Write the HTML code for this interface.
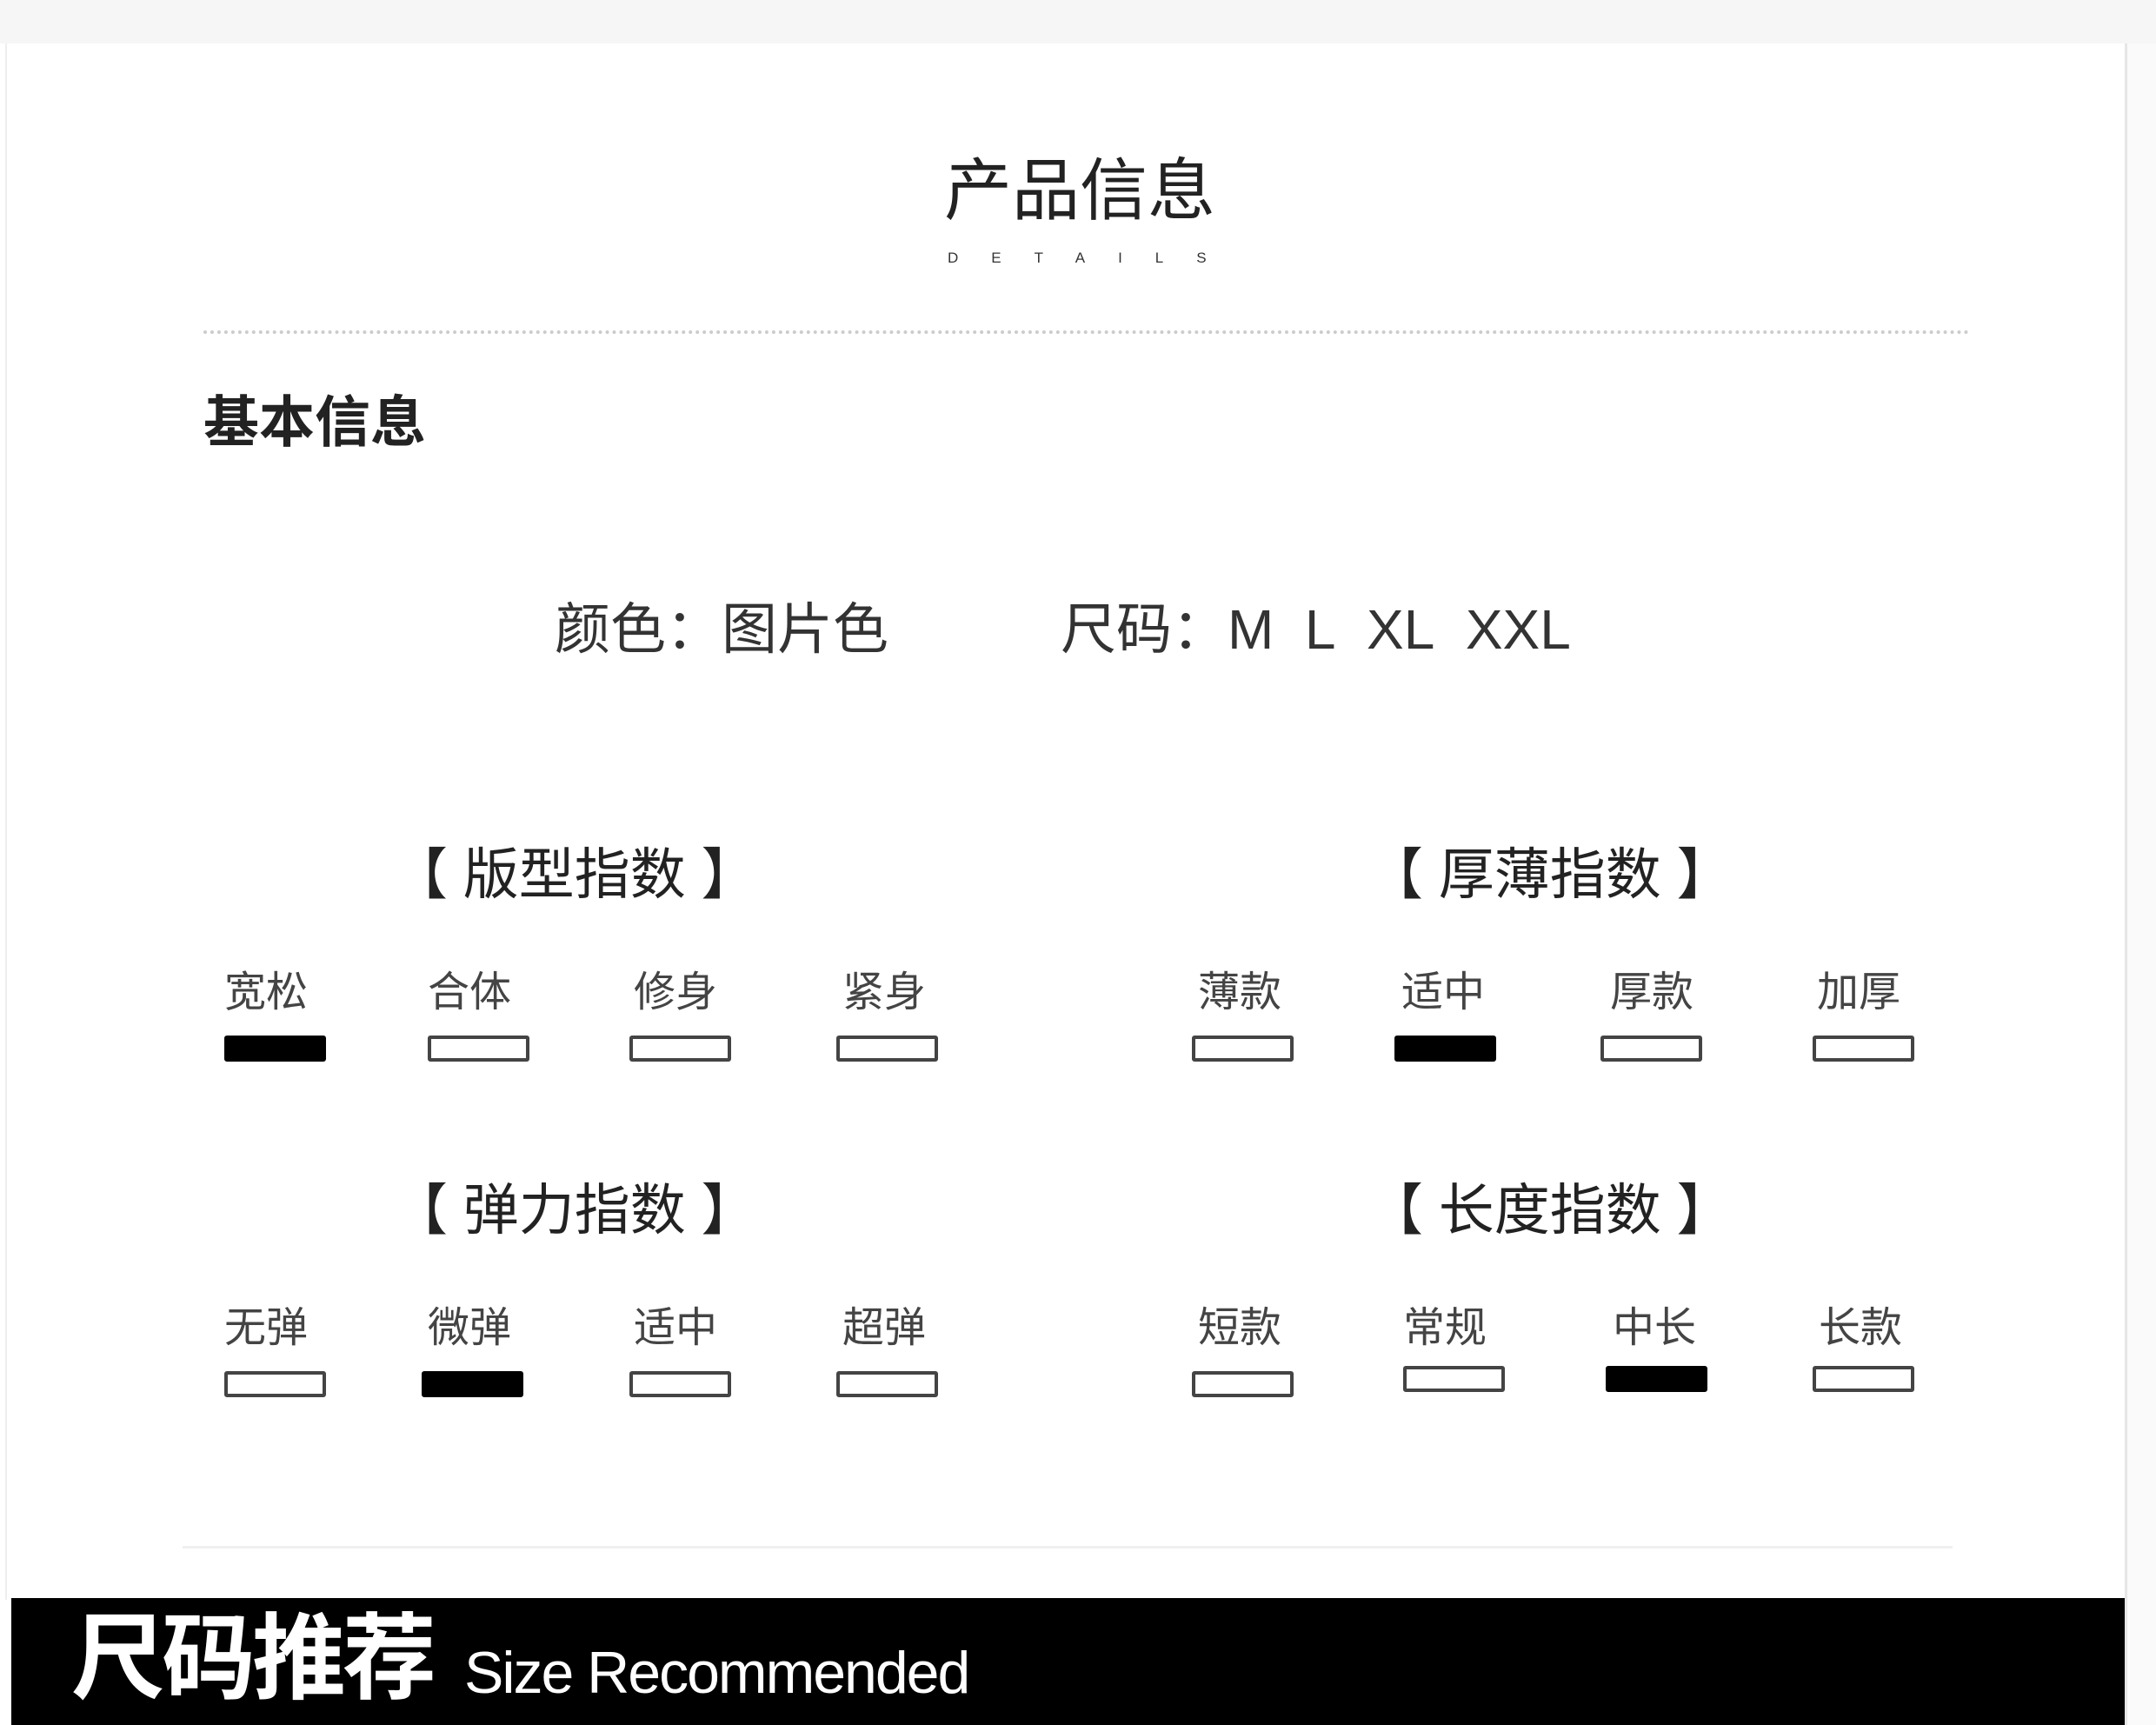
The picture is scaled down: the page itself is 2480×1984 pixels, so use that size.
<!DOCTYPE html>
<html><head><meta charset="utf-8"><style>
*{margin:0;padding:0;box-sizing:border-box}
body{width:2480px;height:1984px;background:#fff;position:relative;overflow:hidden;font-family:"Liberation Sans","Noto Sans CJK SC",sans-serif;color:#222}
.a{position:absolute;white-space:nowrap;line-height:1}
.box{position:absolute;width:117px;height:30px;border:4px solid #444;border-radius:3px;background:#fff}
.box.f{background:#000;border-color:#000}
.lb{position:absolute;font-size:48px;color:#444;line-height:1}
.hd{position:absolute;font-size:64px;color:#222;line-height:1}
</style></head><body>
<div class="a" style="left:0;top:0;width:2480px;height:50px;background:#f6f6f6"></div>
<div class="a" style="left:6px;top:50px;width:2px;height:1790px;background:#eee"></div>
<div class="a" style="left:2444px;top:50px;width:36px;height:1934px;background:#fafafa;border-left:3px solid #e6e6e6"></div>
<div class="a" style="left:1086px;top:180px;font-size:78px;color:#222">产品信息</div>
<div class="a" style="left:1090px;top:288px;font-size:17px;letter-spacing:38px;color:#333">DETAILS</div>
<div class="a" style="left:234px;top:380px;width:2032px;border-top:4px dotted #ccc"></div>
<div class="a" style="left:234px;top:454px;font-size:64px;font-weight:bold;color:#222">基本信息</div>
<div class="a" style="left:638px;top:692px;font-size:64px;color:#333">颜色：图片色</div>
<div class="a" style="left:1220px;top:692px;font-size:64px;color:#333">尺码：M&nbsp;&nbsp;L&nbsp;&nbsp;XL&nbsp;&nbsp;XXL</div>

<div class="hd" style="left:451px;top:974px">【 版型指数 】</div>
<div class="hd" style="left:1573px;top:974px">【 厚薄指数 】</div>
<div class="hd" style="left:451px;top:1360px">【 弹力指数 】</div>
<div class="hd" style="left:1573px;top:1360px">【 长度指数 】</div>

<div class="lb" style="left:258px;top:1118px">宽松</div>
<div class="lb" style="left:492px;top:1118px">合体</div>
<div class="lb" style="left:729px;top:1118px">修身</div>
<div class="lb" style="left:969px;top:1118px">紧身</div>
<div class="lb" style="left:1378px;top:1118px">薄款</div>
<div class="lb" style="left:1612px;top:1118px">适中</div>
<div class="lb" style="left:1852px;top:1118px">厚款</div>
<div class="lb" style="left:2090px;top:1118px">加厚</div>
<div class="box f" style="left:258px;top:1191px"></div>
<div class="box" style="left:492px;top:1191px"></div>
<div class="box" style="left:724px;top:1191px"></div>
<div class="box" style="left:962px;top:1191px"></div>
<div class="box" style="left:1371px;top:1191px"></div>
<div class="box f" style="left:1604px;top:1191px"></div>
<div class="box" style="left:1841px;top:1191px"></div>
<div class="box" style="left:2085px;top:1191px"></div>

<div class="lb" style="left:258px;top:1504px">无弹</div>
<div class="lb" style="left:492px;top:1504px">微弹</div>
<div class="lb" style="left:729px;top:1504px">适中</div>
<div class="lb" style="left:969px;top:1504px">超弹</div>
<div class="lb" style="left:1378px;top:1504px">短款</div>
<div class="lb" style="left:1614px;top:1504px">常规</div>
<div class="lb" style="left:1855px;top:1504px">中长</div>
<div class="lb" style="left:2092px;top:1504px">长款</div>
<div class="box" style="left:258px;top:1577px"></div>
<div class="box f" style="left:485px;top:1577px"></div>
<div class="box" style="left:724px;top:1577px"></div>
<div class="box" style="left:962px;top:1577px"></div>
<div class="box" style="left:1371px;top:1577px"></div>
<div class="box" style="left:1614px;top:1571px"></div>
<div class="box f" style="left:1847px;top:1571px"></div>
<div class="box" style="left:2085px;top:1571px"></div>

<div class="a" style="left:210px;top:1778px;width:2036px;height:3px;background:#f0f0f0"></div>
<div class="a" style="left:13px;top:1838px;width:2431px;height:146px;background:#000"></div>
<div class="a" style="left:82px;top:1854px;font-size:108px;font-weight:bold;color:#fff;letter-spacing:-4px">尺码推荐</div>
<div class="a" style="left:534px;top:1890px;font-size:68px;color:#fff;letter-spacing:-2px">Size Recommended</div>
</body></html>
